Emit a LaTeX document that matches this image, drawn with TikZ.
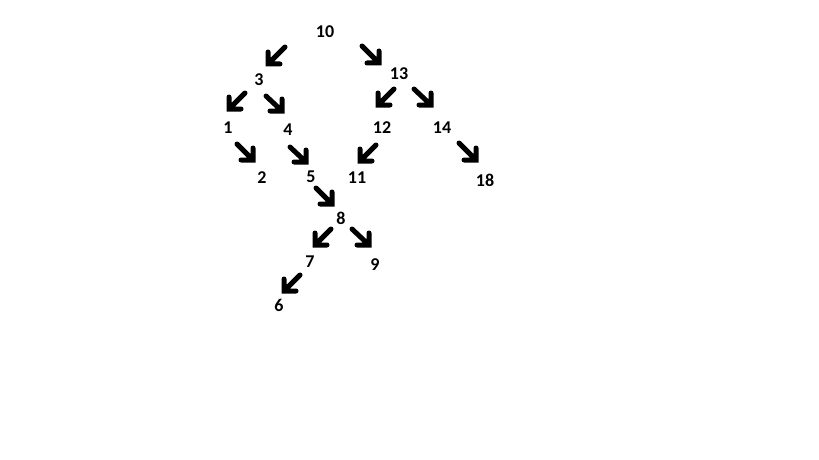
\documentclass[tikz,border=0pt]{standalone}
\usepackage{fontspec}
\setmainfont{Carlito}
\begin{document}
\begin{tikzpicture}[x=1pt,y=-1pt,
  lab/.style={font=\bfseries\fontsize{18}{18}\selectfont, inner sep=0pt},
  arr/.style={line width=5pt, line join=miter, line cap=round}]
\useasboundingbox (0,0) rectangle (819,460);
% labels
\node[lab] (n10) at (325,32) {10};
\node[lab] (n3)  at (259,80) {3};
\node[lab] (n13) at (399,74) {13};
\node[lab] (n1)  at (228,128) {1};
\node[lab] (n4)  at (288,130) {4};
\node[lab] (n12) at (382,128) {12};
\node[lab] (n14) at (442,128) {14};
\node[lab] (n2)  at (262,178) {2};
\node[lab] (n5)  at (311,177) {5};
\node[lab] (n11) at (357,178) {11};
\node[lab] (n18) at (485,180) {18};
\node[lab] (n8)  at (341,218) {8};
\node[lab] (n7)  at (310,262) {7};
\node[lab] (n9)  at (375,265) {9};
\node[lab] (n6)  at (279,305) {6};
% arrow endpoints
\coordinate (t10a) at (285,47); \coordinate (h10a) at (268,64);
\coordinate (t10b) at (362,46); \coordinate (h10b) at (379,63);
\coordinate (t3a)  at (245,93); \coordinate (h3a)  at (229,109);
\coordinate (t3b)  at (266,96); \coordinate (h3b)  at (282,111);
\coordinate (t13a) at (394,89); \coordinate (h13a) at (378,105);
\coordinate (t13b) at (414,89); \coordinate (h13b) at (431,105);
\coordinate (t12a) at (376,145);\coordinate (h12a) at (360,161);
\coordinate (t14b) at (459,143);\coordinate (h14b) at (476,160);
\coordinate (t1b)  at (237,144);\coordinate (h1b)  at (253,160);
\coordinate (t4b)  at (290,147);\coordinate (h4b)  at (306,162);
\coordinate (t5b)  at (316,188);\coordinate (h5b)  at (332,204);
\coordinate (t8a)  at (331,229);\coordinate (h8a)  at (315,245);
\coordinate (t8b)  at (352,229);\coordinate (h8b)  at (369,245);
\coordinate (t7a)  at (300,275);\coordinate (h7a)  at (284,291);
% down-left arrows
\foreach \a in {10a,3a,13a,12a,8a,7a}
  \draw[arr] (t\a) -- (h\a) ++(0,-12) -- (h\a) -- ++(12,0);
% down-right arrows
\foreach \a in {10b,3b,13b,14b,1b,4b,5b,8b}
  \draw[arr] (t\a) -- (h\a) ++(-12,0) -- (h\a) -- ++(0,-12);
\end{tikzpicture}
\end{document}
